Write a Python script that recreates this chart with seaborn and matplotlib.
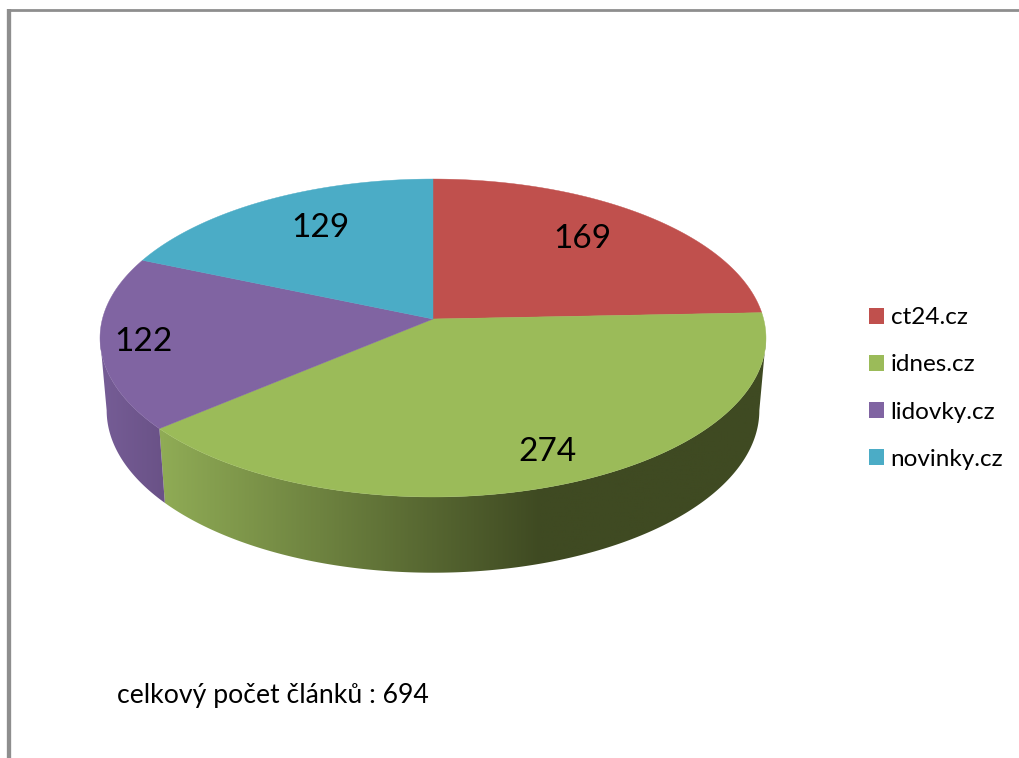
import numpy as np
import matplotlib
matplotlib.use('Agg')
import matplotlib.pyplot as plt
import seaborn as sns
from matplotlib.patches import Patch, Polygon

sns.set_theme(style='white')
plt.rcParams['font.family'] = ['Lato', 'DejaVu Sans']

sites = ['ct24.cz', 'idnes.cz', 'lidovky.cz', 'novinky.cz']
counts = [169, 274, 122, 129]
total_text = 'celkový počet článků : 694'

top_colors = sns.color_palette(['#C0504D', '#9BBB59', '#8064A2', '#4BACC6'])
# side wall shading, light to dark going right (blue and red walls stay hidden)
wall_ramps = [
    ['#8C3A38', '#8C3A38'],
    ['#8FAB55', '#3F4A22'],
    ['#755C95', '#6A5287'],
    ['#37808F', '#37808F'],
]
label_pos = [(582, 239), (548, 452), (144, 342), (320, 228)]

TILT = 0.1195


def top_rim(theta):
    # perspective view of the pie disc, theta clockwise from 12 o'clock
    u, v = np.sin(theta), np.cos(theta)
    w = 1 + TILT * v
    return 433 + 330.6 * u / w, 319 - 156.7 * v / w


def bottom_rim(theta):
    u, v = np.sin(theta), np.cos(theta)
    w = 1 + TILT * v
    return 433 + 324 * u / w, 391 - 160 * v / w


fig = plt.figure(figsize=(10.19, 7.58), dpi=100)
ax = fig.add_axes([0, 0, 1, 1])

# page border of the pasted screenshot
ax.plot([9.5, 9.5], [758, 9], color='#8E8E8E', lw=3.1, solid_capstyle='butt')
ax.plot([8, 1019], [10.3, 10.3], color='#8E8E8E', lw=2.0, solid_capstyle='butt')

edges = np.deg2rad(np.cumsum([0] + counts) / sum(counts) * 360)
front_from = np.arccos(-TILT)
front_to = 2 * np.pi - front_from

# walls first, only the arc facing the viewer shows
for i in range(len(counts)):
    lo, hi = max(edges[i], front_from), min(edges[i + 1], front_to)
    if hi <= lo:
        continue
    thetas = np.linspace(lo, hi, 300)
    xt, yt = top_rim(thetas)
    xb, yb = bottom_rim(thetas[::-1])
    wall = Polygon(np.c_[np.r_[xt, xb], np.r_[yt, yb]], closed=True, transform=ax.transData,
                   facecolor='none', edgecolor='none')
    ax.add_patch(wall)
    x_from, x_to = (163, 540) if i == 1 else (105, 163)
    x0, x1 = min(xt.min(), xb.min()), max(xt.max(), xb.max())
    xs = np.linspace(x0, x1, 512)
    shade = np.clip((xs - x_from) / (x_to - x_from), 0, 1)
    ramp = np.array(sns.blend_palette(wall_ramps[i], 256))[:, :3]
    img = ramp[(shade * 255).astype(int)][np.newaxis, :, :]
    im = ax.imshow(img, extent=(x0, x1, 600, 300), aspect='auto', zorder=2, interpolation='bilinear')
    im.set_clip_path(wall)

for i in range(len(counts)):
    thetas = np.linspace(edges[i], edges[i + 1], 200)
    xs, ys = top_rim(thetas)
    ax.fill(np.r_[433, xs], np.r_[319, ys], color=top_colors[i], lw=0.3, zorder=3)
    ax.text(label_pos[i][0], label_pos[i][1], str(counts[i]), fontsize=24, color='black',
            ha='center', va='center', zorder=4)

ax.set_xlim(0, 1019)
ax.set_ylim(758, 0)
ax.axis('off')

handles = [Patch(facecolor=c, edgecolor='none', label=s) for c, s in zip(top_colors, sites)]
ax.legend(handles=handles, loc='center left', bbox_to_anchor=(847, 388.5),
          bbox_transform=ax.transData, frameon=False, fontsize=17.5,
          handlelength=0.62, handleheight=0.62, handletextpad=0.28, labelspacing=1.07,
          labelcolor='black')

ax.text(117, 696, total_text, fontsize=19.2, color='black', ha='left', va='center')

fig.savefig('out.png', dpi=100)
